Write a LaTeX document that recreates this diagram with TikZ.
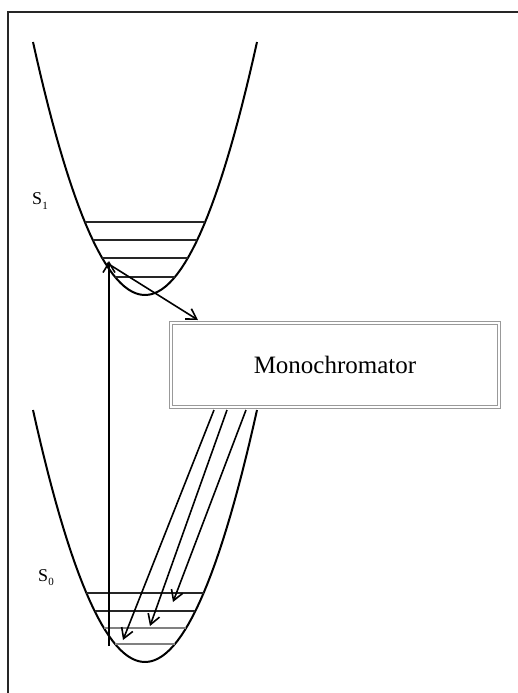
\documentclass[tikz,border=0pt]{standalone}
\usepackage{fontspec}
\setmainfont{Liberation Serif}
\usetikzlibrary{arrows.meta, positioning}

\begin{document}
\begin{tikzpicture}[
    x=0.5pt, y=-0.5pt,
    frame/.style={line width=1pt, black!85},
    curve/.style={line width=1pt, black},
    level/.style={line width=0.9pt, black!85},
    lowlevel/.style={line width=0.9pt, gray},
    arrow/.style={-{Straight Barb[length=5pt, width=6pt]}, line width=0.8pt},
    monobox/.style={rectangle, draw=gray!80, double=white, double distance=1.2pt, line width=0.6pt, minimum width=164pt, minimum height=42pt, font=\fontsize{12.5}{14}\selectfont},
    state/.style={font=\fontsize{9}{10}\selectfont, inner sep=0pt}
]
\useasboundingbox (0,0) rectangle (518,693);

\draw[frame] (518,12) -- (8,12) -- (8,693);

% excited state S1
\draw[curve] plot[domain=-112:112, samples=60] ({145+\x},{295-253*(\x/112)^2});
\draw[level] (85,222) -- (205,222);
\draw[level] (93,240) -- (197,240);
\draw[level] (102,258) -- (188,258);
\draw[level] (115,277) -- (175,277);
\node[state] (s1) at (40,201) {S\raisebox{-0.5ex}{\fontsize{5.5}{6}\selectfont 1}};

% ground state S0
\draw[curve] plot[domain=-112:112, samples=60] ({145+\x},{662-252*(\x/112)^2});
\draw[level] (86,593) -- (204,593);
\draw[level] (95,611) -- (195,611);
\draw[lowlevel] (104,628) -- (186,628);
\draw[lowlevel] (115,644) -- (175,644);
\node[state] (s0) at (46,578) {S\raisebox{-0.5ex}{\fontsize{5.5}{6}\selectfont 0}};

\node[monobox] (mono) at (335,365) {Monochromator};

\coordinate (ground) at (109,646);
\coordinate (excited) at (109,261);
\coordinate (relax) at (107,263);
\coordinate (inlet) at (198,320);
\coordinate (outa) at (214,410);
\coordinate (outb) at (227,410);
\coordinate (outc) at (246,410);
\coordinate (enda) at (123,640);
\coordinate (endb) at (150,626);
\coordinate (endc) at (173,602);

\draw[arrow] (ground) -- (excited);
\draw[arrow] (relax) -- (inlet);
\draw[arrow] (outa) -- (enda);
\draw[arrow] (outb) -- (endb);
\draw[arrow] (outc) -- (endc);

\end{tikzpicture}
\end{document}
